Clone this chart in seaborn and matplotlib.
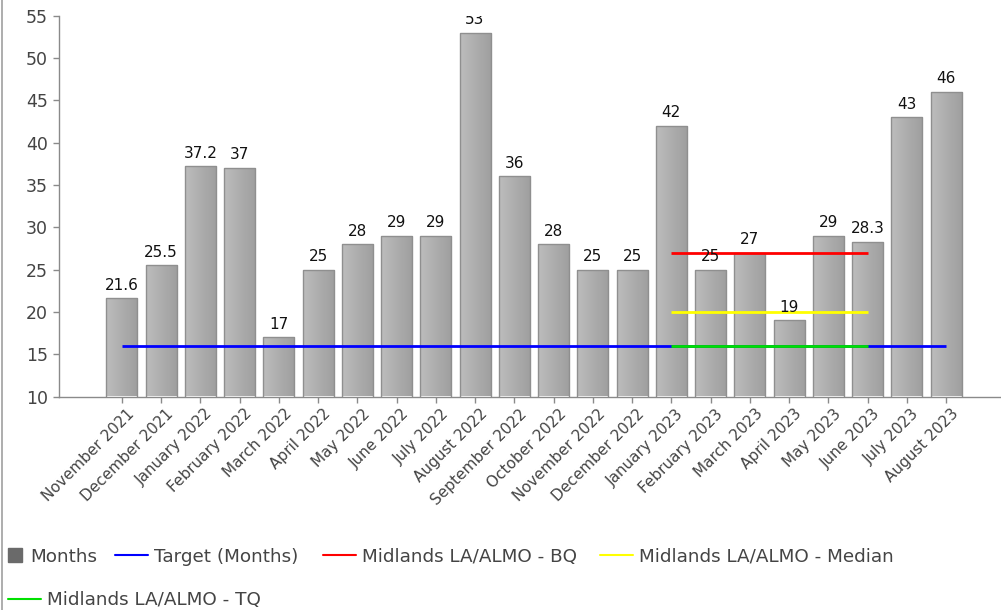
import numpy as np
import matplotlib
matplotlib.use("Agg")
import matplotlib.pyplot as plt
import matplotlib.transforms as mtransforms
from matplotlib.lines import Line2D
import seaborn as sns

# Monthly values (months)
months = [
    "November 2021", "December 2021", "January 2022", "February 2022",
    "March 2022", "April 2022", "May 2022", "June 2022", "July 2022",
    "August 2022", "September 2022", "October 2022", "November 2022",
    "December 2022", "January 2023", "February 2023", "March 2023",
    "April 2023", "May 2023", "June 2023", "July 2023", "August 2023",
]
values = [21.6, 25.5, 37.2, 37, 17, 25, 28, 29, 29, 53, 36, 28, 25, 25,
          42, 25, 27, 19, 29, 28.3, 43, 46]

# Reference lines
target_value = 16
benchmark_start = "January 2023"
benchmark_end = "June 2023"
bq_value = 27
median_value = 20
tq_value = 16

legend_labels = ["Months", "Target (Months)", "Midlands LA/ALMO - BQ",
                 "Midlands LA/ALMO - Median", "Midlands LA/ALMO - TQ"]

sns.set_theme(style="white")
plt.rcParams["font.family"] = ["DejaVu Sans"]

W, H = 1001, 610
fig = plt.figure(figsize=(W / 100, H / 100), dpi=100)
ax = fig.add_axes([59 / W, 1 - 396.5 / H, 1 - 59 / W, (396.5 - 15.6) / H])

Y_MIN, Y_MAX = 10, 55

sns.barplot(x=months, y=values, ax=ax, color="#ababab", saturation=1,
            width=0.79, edgecolor="#8f8f8f", linewidth=1, zorder=2)

# Horizontal shading on each bar, limited to the visible value range
grad = np.linspace(0.74, 0.62, 64).reshape(1, -1)
for p in ax.patches:
    x0, y0 = p.get_x(), p.get_y()
    w, h = p.get_width(), p.get_height()
    im = ax.imshow(grad, cmap="gray", vmin=0, vmax=1, aspect="auto",
                   extent=(x0, x0 + w, max(y0, Y_MIN), min(y0 + h, Y_MAX)),
                   zorder=2.1, interpolation="bilinear")
    im.set_clip_path(p)
    p.set_facecolor("none")
    p.set_zorder(2.2)

# Value labels, clipped to the plotting area
for i, v in enumerate(values):
    t = ax.annotate(f"{v:g}", xy=(i, v), xytext=(0, 4), textcoords="offset points",
                    ha="center", va="bottom", fontsize=11, color="#111111",
                    zorder=5)
    t.set_clip_on(True)
    t.set_clip_box(ax.bbox)

n = len(months)
i0, i1 = months.index(benchmark_start), months.index(benchmark_end)
line_kw = dict(lw=2, solid_capstyle="butt")
ax.plot([0, n - 1], [target_value] * 2, color="#0000ff", zorder=4, **line_kw)
ax.plot([i0, i1], [bq_value] * 2, color="#ff0000", zorder=4, **line_kw)
ax.plot([i0, i1], [median_value] * 2, color="#ffff00", zorder=4, **line_kw)
ax.plot([i0, i1], [tq_value] * 2, color="#00e000", zorder=4.5, **line_kw)

ax.set_xlim(-1.6, 22.4)
ax.set_ylim(Y_MIN, Y_MAX)
ax.set_yticks(range(10, 56, 5))
ax.set_xlabel("")
ax.set_ylabel("")
for s in ("top", "right"):
    ax.spines[s].set_visible(False)
for s in ("left", "bottom"):
    ax.spines[s].set_color("#8a8a8a")
    ax.spines[s].set_linewidth(1)
ax.tick_params(axis="both", which="both", length=4, width=1, color="#8a8a8a",
               direction="out", left=True, bottom=True)
ax.tick_params(axis="y", labelsize=12.5, labelcolor="#444444", pad=4)
ax.tick_params(axis="x", labelsize=11, labelcolor="#444444", pad=3)
shift = mtransforms.ScaledTranslation(5 / 100, 0, fig.dpi_scale_trans)
for lbl in ax.get_xticklabels():
    lbl.set_rotation(45)
    lbl.set_ha("right")
    lbl.set_rotation_mode("anchor")
    lbl.set_transform(lbl.get_transform() + shift)

# Legend entries, each placed along the bottom
handles = [
    Line2D([], [], marker="s", color="#6a6a6a", linestyle="none", markersize=10),
    Line2D([], [], color="#0000ff", lw=1.5),
    Line2D([], [], color="#ff0000", lw=1.5),
    Line2D([], [], color="#ffff00", lw=1.5),
    Line2D([], [], color="#00e000", lw=1.5),
]
slots = [(6, 556.7, 0.95), (115, 556.7, 1.8), (323, 556.7, 1.8),
         (600, 556.7, 1.8), (8, 600, 1.8)]
for hnd, lab, (px, py, hl) in zip(handles, legend_labels, slots):
    fig.legend([hnd], [lab], loc="center left", bbox_to_anchor=(px / W, 1 - py / H),
               frameon=False, fontsize=13.2, handlelength=hl, handletextpad=0.35,
               borderpad=0, borderaxespad=0, labelcolor="#444444")

# Outer frame on the left edge
fig.add_artist(Line2D([1.5 / W, 1.5 / W], [0, 1], color="#a0a0a0", lw=1.2,
                      transform=fig.transFigure))

fig.savefig("out.png", dpi=100)
